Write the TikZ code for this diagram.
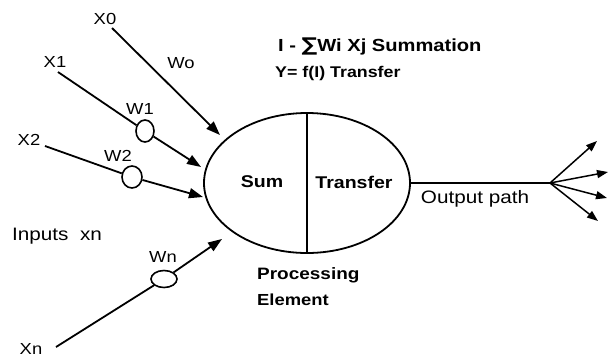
\documentclass[tikz,border=0pt]{standalone}
\usepackage{fontspec}
\setmainfont[FakeStretch=1.15]{Liberation Sans}
\newfontfamily\symf[FakeStretch=1.15]{DejaVu Sans}
\usetikzlibrary{arrows.meta,shapes.geometric}
\newcommand{\fsz}[1]{\fontsize{#1}{#1}\selectfont}
\begin{document}
\begin{tikzpicture}[x=1pt,y=-1pt,
  lbl/.style={inner sep=0pt,font=\fsz{16}},
  wire/.style={line width=1.8pt,black},
  arr/.style={wire,-{Triangle[length=14pt,width=10pt]}},
  oarr/.style={line width=1.5pt,black,-{Triangle[length=11pt,width=8pt]}},
  wcirc/.style={ellipse,draw,line width=1.6pt,inner sep=0pt},
  pe/.style={ellipse,draw,line width=1.8pt,minimum width=206pt,minimum height=140pt,inner sep=0pt}]
\useasboundingbox[fill=white] (0,0) rectangle (610,360);
% processing element
\node[pe] (pe) at (307,183) {};
\draw[line width=1.2pt] (pe.north) -- (pe.south);
\node[lbl,font=\fsz{17}\bfseries] (sum) at (262,182) {Sum};
\node[lbl,font=\fsz{17}\bfseries] (tr) at (354,182) {Transfer};
% titles
\node[lbl,anchor=west,font=\fsz{17.5}\bfseries] (t1) at (278,46) {I - {\symf\fsz{19}∑}Wi Xj Summation};
\node[lbl,anchor=west,font=\fsz{15.5}\bfseries] (t2) at (275,73) {Y= f(I) Transfer};
\node[lbl,anchor=west,font=\fsz{16.5}\bfseries] (p1) at (257,275) {Processing};
\node[lbl,anchor=west,font=\fsz{16}\bfseries] (p2) at (257,300) {Element};
% inputs
\node[lbl] (x0) at (105,19) {X0};
\node[lbl] (x1) at (55,62) {X1};
\node[lbl] (x2) at (29,140) {X2};
\node[lbl,font=\fsz{16}] (xn) at (31,349) {Xn};
\node[lbl] (wo) at (181,63) {Wo};
\node[lbl] (w1l) at (140,109) {W1};
\node[lbl] (w2l) at (118,156) {W2};
\node[lbl] (wnl) at (163,257) {Wn};
\node[lbl,anchor=west,font=\fsz{18}] (inp) at (12,236) {Inputs\ \ xn};
\node[wcirc,minimum width=18pt,minimum height=22pt] (w1) at (145,131) {};
\node[wcirc,minimum width=20pt,minimum height=22pt] (w2) at (132,177) {};
\node[wcirc,minimum width=26pt,minimum height=17pt] (wn) at (164,279) {};
\coordinate (t0) at (220,135);
\coordinate (tt1) at (201,167);
\coordinate (tt2) at (203,197);
\coordinate (ttn) at (222,239);
\coordinate (s0) at (112,28);
\coordinate (s1) at (58,72);
\coordinate (s2) at (45,146);
\coordinate (sn) at (56,347);
\draw[arr] (s0) -- (t0);
\draw[wire] (s1) -- (w1);
\draw[arr] (w1) -- (tt1);
\draw[wire] (s2) -- (w2);
\draw[arr] (w2) -- (tt2);
\draw[wire] (sn) -- (wn);
\draw[arr] (wn) -- (ttn);
% output
\coordinate (fan) at (550,183);
\draw[wire] (pe.east) -- (fan);
\node[lbl,font=\fsz{18}] (out) at (475,199) {Output path};
\coordinate (o1) at (597,141);
\coordinate (o2) at (608,172);
\coordinate (o3) at (607,198);
\coordinate (o4) at (598,221);
\draw[oarr] (fan) -- (o1);
\draw[oarr] (fan) -- (o2);
\draw[oarr] (fan) -- (o3);
\draw[oarr] (fan) -- (o4);
\end{tikzpicture}
\end{document}
